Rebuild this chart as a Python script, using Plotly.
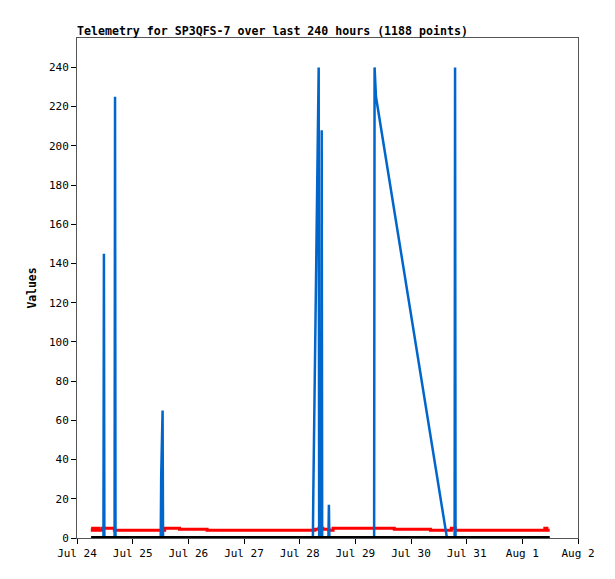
import pandas as pd
import plotly.graph_objects as go

# start of the x axis; all times below are hours after it
start = pd.Timestamp("2023-07-24 00:00")

# blue series (hours, values)
blue_hours = [6.1, 11.4, 11.6, 11.8, 16.2, 16.4, 16.6, 36.1, 36.3, 36.9, 37.1,
              101.7, 101.9, 102.4, 102.8, 103.2, 103.7, 104.2, 104.4,
              105.3, 105.5, 105.7, 108.4, 108.6, 108.8,
              128.1, 128.3, 128.9, 159.5, 162.8, 163.0, 163.2, 203.8]
blue_values = [0, 0, 145, 0, 0, 225, 0, 0, 32, 65, 0,
               0, 24, 75, 120, 165, 216, 240, 0,
               0, 208, 0, 0, 17, 0,
               0, 240, 225, 0, 0, 240, 0, 0]

# red series, step changes (hours, values)
red_hours = [6.1, 6.6, 7.3, 8.2, 9.0, 9.6, 11.0, 16.1, 37.8, 44.2, 56.1,
             102.6, 104.3, 106.0, 108.6, 110.4, 136.8, 152.4, 161.4, 163.1,
             201.7, 202.6, 203.8]
red_values = [5, 4, 5, 4, 5, 4, 5, 4, 5, 4.4, 4,
              4.5, 5, 4.5, 4, 5, 4.4, 4, 5, 4,
              5, 4, 4]

# black series
black_hours = [6.1, 203.8]
black_values = [0, 0]


def to_time(hours):
    return [start + pd.Timedelta(hours=h) for h in hours]


def main():
    fig = go.Figure()
    fig.add_trace(go.Scatter(x=to_time(red_hours), y=red_values, mode="lines",
                             line=dict(color="#ff0000", width=3, shape="hv")))
    fig.add_trace(go.Scatter(x=to_time(blue_hours), y=blue_values, mode="lines",
                             line=dict(color="#0066cc", width=2.5)))
    fig.add_trace(go.Scatter(x=to_time(black_hours), y=black_values, mode="lines",
                             line=dict(color="#000000", width=4)))

    mono = "DejaVu Sans Mono"
    # page body adds an 8px offset, so figure is 8px smaller and margins shifted
    fig.update_layout(
        width=607, height=571,
        margin=dict(l=69, r=37, t=30, b=41),
        showlegend=False,
        plot_bgcolor="white", paper_bgcolor="white",
        font=dict(family=mono, size=11, color="black"),
        title=dict(text="<b>Telemetry for SP3QFS-7 over last 240 hours (1188 points)</b>",
                   font=dict(family=mono, size=11.6, color="black"),
                   xref="paper", x=0, xanchor="left",
                   yref="container", y=1 - 23 / 571, yanchor="middle"),
    )
    fig.update_xaxes(
        range=[start, start + pd.Timedelta(days=9)],
        tickformat="%b %-d", dtick=86400000, tick0=start,
        ticks="outside", ticklen=5, tickcolor="black",
        showgrid=False, zeroline=False,
        showline=True, linecolor="#555555", mirror=True,
    )
    fig.update_yaxes(
        range=[0, 255], dtick=20, tick0=0,
        ticks="outside", ticklen=5, tickcolor="black",
        showgrid=False, zeroline=False,
        showline=True, linecolor="#555555", mirror=True,
        title=dict(text="<b>Values</b>", font=dict(family=mono, size=11.4), standoff=9),
    )

    fig.write_html("out.html")


if __name__ == "__main__":
    main()
